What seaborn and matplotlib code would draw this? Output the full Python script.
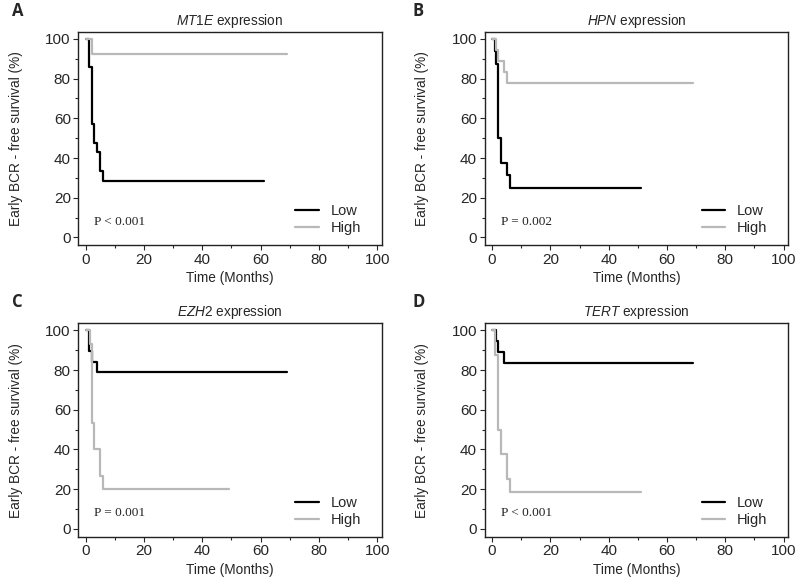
import pandas as pd
import seaborn as sns
import matplotlib.pyplot as plt
from matplotlib.ticker import MultipleLocator

sns.set_style('ticks')
plt.rcParams['font.family'] = ['Liberation Sans', 'DejaVu Sans']
plt.rcParams['mathtext.fontset'] = 'custom'
plt.rcParams['mathtext.it'] = 'Liberation Sans:italic'
plt.rcParams['mathtext.rm'] = 'Liberation Sans'

# dane (czas w miesiacach, przezycie w %)
genes = ['MT1E', 'HPN', 'EZH2', 'TERT']
panel_letters = ['A', 'B', 'C', 'D']
p_values = ['P < 0.001', 'P = 0.002', 'P = 0.001', 'P < 0.001']

mt1e_low_t = [0, 1, 2, 3, 4, 5, 6, 61]
mt1e_low_s = [100, 85.7, 57.1, 47.6, 42.9, 33.3, 28.6, 28.6]
mt1e_high_t = [0, 2, 69]
mt1e_high_s = [100, 92.3, 92.3]

hpn_low_t = [0, 1, 1.3, 2, 3, 5, 6, 51]
hpn_low_s = [100, 93.8, 87.5, 50, 37.5, 31.3, 25, 25]
hpn_high_t = [0, 1.5, 2, 4, 5, 69]
hpn_high_s = [100, 94.4, 88.9, 83.3, 77.8, 77.8]

ezh2_low_t = [0, 1, 2, 4, 69]
ezh2_low_s = [100, 89.5, 84.2, 78.9, 78.9]
ezh2_high_t = [0, 1.5, 2, 3, 5, 6, 49]
ezh2_high_s = [100, 93.3, 53.3, 40, 26.7, 20, 20]

tert_low_t = [0, 1.5, 2, 4, 69]
tert_low_s = [100, 94.4, 88.9, 83.3, 83.3]
tert_high_t = [0, 1, 2, 3, 5, 6, 51]
tert_high_s = [100, 87.5, 50, 37.5, 25, 18.75, 18.75]

dane = [
    (mt1e_low_t, mt1e_low_s, mt1e_high_t, mt1e_high_s),
    (hpn_low_t, hpn_low_s, hpn_high_t, hpn_high_s),
    (ezh2_low_t, ezh2_low_s, ezh2_high_t, ezh2_high_s),
    (tert_low_t, tert_low_s, tert_high_t, tert_high_s),
]

kolory = {'Low': 'black', 'High': '#b8b8b8'}

f, axes = plt.subplots(2, 2, figsize=(8, 5.81), dpi=100)
f.subplots_adjust(left=0.098, right=0.985, top=0.945, bottom=0.076,
                  wspace=0.34, hspace=0.365)

for i, ax in enumerate(axes.flat):
    lt, ls, ht, hs = dane[i]
    df = pd.concat([
        pd.DataFrame({'czas': lt, 'przezycie': ls, 'grupa': 'Low'}),
        pd.DataFrame({'czas': ht, 'przezycie': hs, 'grupa': 'High'}),
    ])
    sns.lineplot(data=df, x='czas', y='przezycie', hue='grupa', palette=kolory,
                 estimator=None, sort=False, drawstyle='steps-post',
                 linewidth=1.6, ax=ax)
    ax.set(xlim=(-2.5, 101.5), ylim=(-4, 103.5))
    ax.xaxis.set_major_locator(MultipleLocator(20))
    ax.xaxis.set_minor_locator(MultipleLocator(10))
    ax.yaxis.set_major_locator(MultipleLocator(20))
    ax.yaxis.set_minor_locator(MultipleLocator(10))
    ax.tick_params(which='major', direction='out', length=3.5, width=0.8,
                   labelsize=11, pad=2)
    ax.tick_params(which='minor', direction='out', length=2.5, width=0.8)
    for s in ax.spines.values():
        s.set_visible(True)
        s.set_color('#222222')
        s.set_linewidth(1.0)
    ax.set_xlabel('Time (Months)', fontsize=9.8, labelpad=3)
    ax.set_ylabel('Early BCR - free survival (%)', fontsize=9.8, labelpad=16)
    ax.set_title(r'$\mathit{' + genes[i] + '}$ expression', fontsize=9.8, pad=5)
    ax.text(3, 8, p_values[i], family='Liberation Serif', fontsize=9.5,
            color='#222222', va='center')
    leg = ax.legend(loc='lower right', bbox_to_anchor=(0.965, 0.0),
                    frameon=False, fontsize=10.5, handlelength=1.6,
                    handletextpad=0.8, labelspacing=0.2, borderaxespad=0.3)
    pos = ax.get_position()
    f.text(0.015 if i % 2 == 0 else 0.515, pos.y1 + 0.028, panel_letters[i],
           fontsize=12, fontweight='bold', family=['Open Sans', 'DejaVu Sans'])

f.savefig('out.png', dpi=100)
